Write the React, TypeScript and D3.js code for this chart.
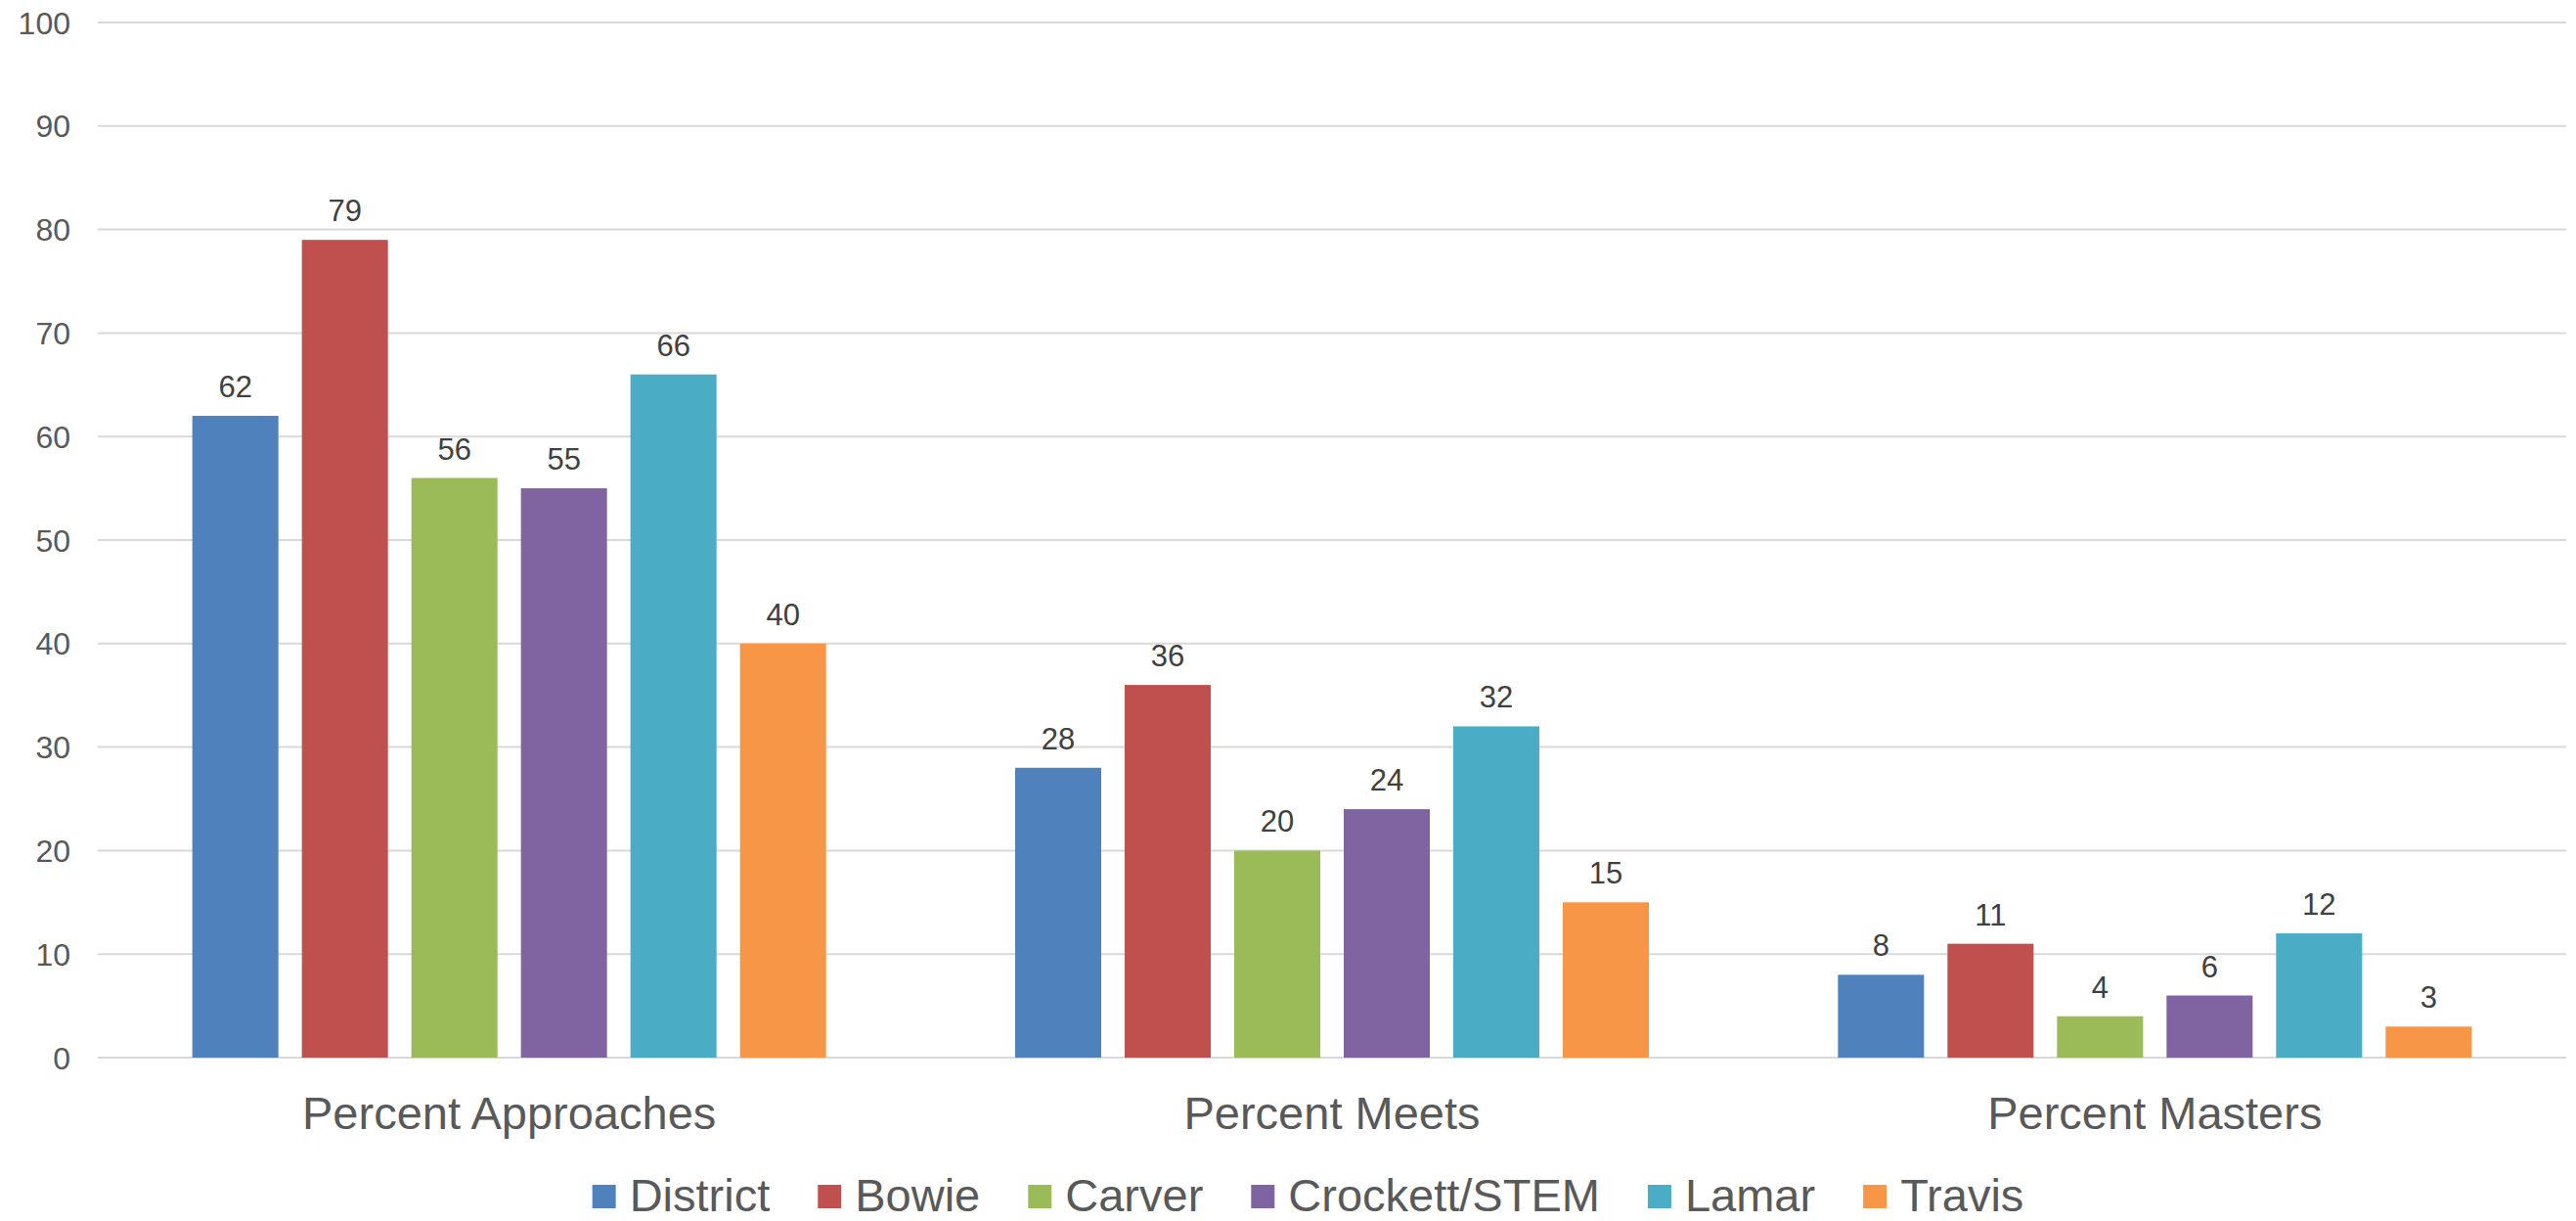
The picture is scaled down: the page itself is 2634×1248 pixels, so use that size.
import React, { useEffect, useRef } from "react";
import * as d3 from "d3";

const categories = ["Percent Approaches", "Percent Meets", "Percent Masters"];
const seriesNames = ["District", "Bowie", "Carver", "Crockett/STEM", "Lamar", "Travis"];
const seriesColors = ["#4F81BD", "#C0504D", "#9BBB59", "#8064A2", "#4BACC6", "#F79646"];
const districtValues = [62, 28, 8];
const bowieValues = [79, 36, 11];
const carverValues = [56, 20, 4];
const crockettValues = [55, 24, 6];
const lamarValues = [66, 32, 12];
const travisValues = [40, 15, 3];
const seriesValues = [districtValues, bowieValues, carverValues, crockettValues, lamarValues, travisValues];
const yTicks = [0, 10, 20, 30, 40, 50, 60, 70, 80, 90, 100];

const W = 2634;
const H = 1248;
const FONT = "'Liberation Sans', Arial, sans-serif";

export default function App() {
  const ref = useRef<SVGSVGElement | null>(null);

  useEffect(() => {
    const svg = d3.select(ref.current);
    svg.selectAll("*").remove();

    const left = 100, right = 2624, top = 23, bottom = 1081;
    const y = d3.scaleLinear().domain([0, 100]).range([bottom, top]);
    const x0 = d3.scaleBand<string>().domain(categories).range([left, right]).padding(0);
    const groupHalf = 336;
    const x1 = d3
      .scaleBand<string>()
      .domain(seriesNames)
      .range([-groupHalf, groupHalf])
      .paddingInner(24 / 112)
      .paddingOuter(12 / 112);

    // gridlines
    svg
      .append("g")
      .selectAll("line")
      .data(yTicks)
      .join("line")
      .attr("x1", left)
      .attr("x2", right)
      .attr("y1", (d) => y(d))
      .attr("y2", (d) => y(d))
      .attr("stroke", "#D9D9D9")
      .attr("stroke-width", 2);

    // tick labels
    svg
      .append("g")
      .selectAll("text")
      .data(yTicks)
      .join("text")
      .attr("x", 72)
      .attr("y", (d) => y(d) + 11.5)
      .attr("text-anchor", "end")
      .attr("font-family", FONT)
      .attr("font-size", 32)
      .attr("fill", "#595959")
      .text((d) => String(d));

    // bars
    const rows: { cat: string; s: string; v: number; c: string }[] = [];
    categories.forEach((cat, ci) => {
      seriesNames.forEach((s, si) => {
        rows.push({ cat, s, v: seriesValues[si][ci], c: seriesColors[si] });
      });
    });

    const center = (cat: string) => (x0(cat) as number) + x0.bandwidth() / 2;

    svg
      .append("g")
      .selectAll("rect")
      .data(rows)
      .join("rect")
      .attr("x", (d) => center(d.cat) + (x1(d.s) as number))
      .attr("y", (d) => y(d.v))
      .attr("width", x1.bandwidth())
      .attr("height", (d) => bottom - y(d.v))
      .attr("fill", (d) => d.c);

    // data labels
    svg
      .append("g")
      .selectAll("text")
      .data(rows)
      .join("text")
      .attr("x", (d) => center(d.cat) + (x1(d.s) as number) + x1.bandwidth() / 2)
      .attr("y", (d) => y(d.v) - 19)
      .attr("text-anchor", "middle")
      .attr("font-family", FONT)
      .attr("font-size", 31)
      .attr("fill", "#404040")
      .text((d) => String(d.v));

    // category labels
    svg
      .append("g")
      .selectAll("text")
      .data(categories)
      .join("text")
      .attr("x", (d) => center(d))
      .attr("y", 1154)
      .attr("text-anchor", "middle")
      .attr("font-family", FONT)
      .attr("font-size", 47)
      .attr("fill", "#595959")
      .text((d) => d);

    // legend
    const lg = svg.append("g");
    let cx = 0;
    seriesNames.forEach((s, i) => {
      const g = lg.append("g").attr("transform", `translate(${cx},0)`);
      g.append("rect")
        .attr("x", 0)
        .attr("y", 1211)
        .attr("width", 24)
        .attr("height", 24)
        .attr("fill", seriesColors[i]);
      const t = g
        .append("text")
        .attr("x", 38)
        .attr("y", 1238)
        .attr("font-family", FONT)
        .attr("font-size", 47)
        .attr("fill", "#595959")
        .text(s);
      const tw = (t.node() as SVGTextElement).getComputedTextLength();
      cx += 38 + tw + 49;
    });
    const total = cx - 49;
    lg.attr("transform", `translate(${1337.5 - total / 2},0)`);
  }, []);

  return (
    <svg
      ref={ref}
      width={W}
      height={H}
      style={{ position: "absolute", left: 0, top: 0, background: "#fff" }}
    />
  );
}
